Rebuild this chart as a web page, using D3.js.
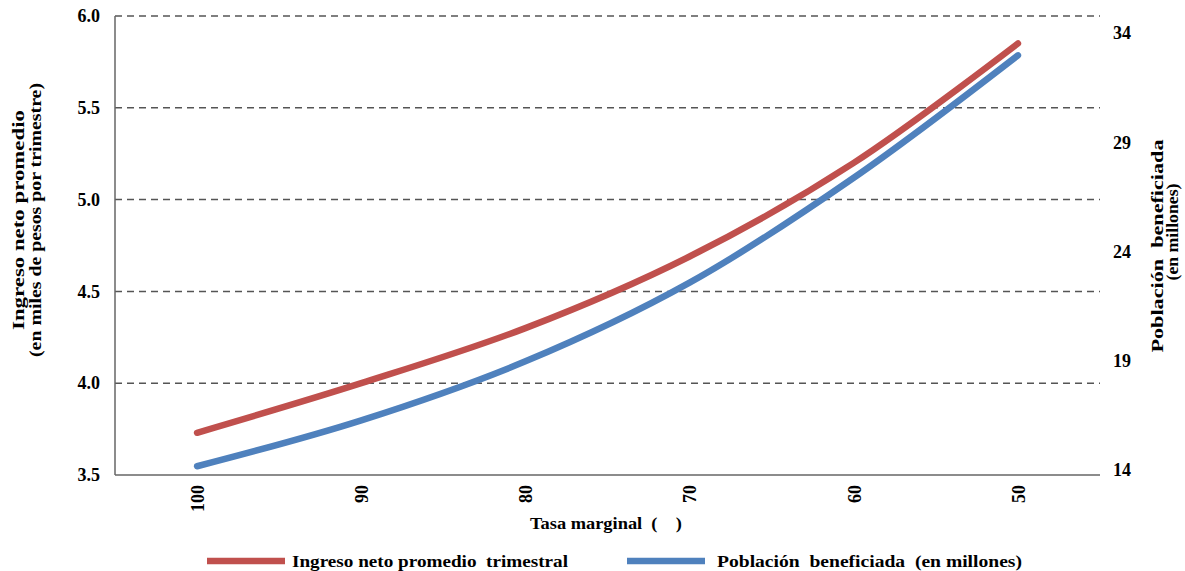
<!DOCTYPE html>
<html><head><meta charset="utf-8">
<script src="https://cdn.jsdelivr.net/npm/d3@7"></script>
<style>
body{margin:0;background:#fff;}
svg text{font-family:"Liberation Serif","Times New Roman","DejaVu Serif",serif !important;font-weight:bold;fill:#000;white-space:pre;}
</style></head>
<body><svg id="c" width="1185" height="571"></svg>
<script>
const categories = ["100","90","80","70","60","50"];
const ingreso = [3.73, 4.0, 4.30, 4.69, 5.20, 5.85];
const poblacion = [14.4, 16.5, 19.2, 22.8, 27.6, 33.2];
const leftTicks = [3.5, 4.0, 4.5, 5.0, 5.5, 6.0];
const rightTicks = [14, 19, 24, 29, 34];
const seriesNames = ["Ingreso neto promedio  trimestral", "Población  beneficiada  (en millones)"];
const colors = ["#C0504D", "#4F81BD"];

const FONT = '"Liberation Serif","Times New Roman","DejaVu Serif",serif';
const svg = d3.select("#c").attr("font-family", FONT);
const L = 115, R = 1100, T = 16, B = 475;
const x = d3.scalePoint().domain(categories).range([L, R]).padding(0.5);
const yL = d3.scaleLinear().domain([3.5, 6.0]).range([B, T]);
const yR = d3.scaleLinear().domain([14, 35]).range([B, T]);

// gridlines
svg.append("g").selectAll("line").data(leftTicks.filter(d => d > 3.5)).join("line")
  .attr("x1", L).attr("x2", R).attr("y1", d => yL(d)).attr("y2", d => yL(d))
  .attr("stroke", "#555").attr("stroke-width", 1.5).attr("stroke-dasharray", "7,5");

// axes lines
svg.append("line").attr("x1", L).attr("x2", L).attr("y1", T).attr("y2", B).attr("stroke", "#666").attr("stroke-width", 1.5);
svg.append("line").attr("x1", L).attr("x2", R).attr("y1", B).attr("y2", B).attr("stroke", "#666").attr("stroke-width", 1.5);

function styleText(sel, size) {
  sel.attr("font-family", FONT).style("font-family", FONT).style("font-size", size + "px").style("font-weight", "bold");
}
function fit(sel, len) { sel.attr("textLength", len).attr("lengthAdjust", "spacingAndGlyphs"); }

// left axis labels
const gl = svg.append("g").attr("transform", `translate(${L},0)`)
  .call(d3.axisLeft(yL).tickValues(leftTicks).tickFormat(d3.format(".1f")).tickSize(0).tickPadding(15));
gl.attr("font-family", FONT);
gl.select(".domain").remove();
styleText(gl.selectAll("text"), 18);

// right axis labels
const gr = svg.append("g").attr("transform", `translate(${R},0)`)
  .call(d3.axisRight(yR).tickValues(rightTicks).tickSize(0).tickPadding(13));
gr.attr("font-family", FONT);
gr.select(".domain").remove();
styleText(gr.selectAll("text"), 18);
gr.selectAll("text").attr("dy", "0.05em");

// x axis labels (rotated)
const gx = svg.append("g").attr("transform", `translate(0,${B})`)
  .call(d3.axisBottom(x).tickSize(0).tickPadding(0));
gx.attr("font-family", FONT);
gx.select(".domain").remove();
styleText(gx.selectAll("text"), 18);
gx.selectAll("text").attr("transform", "rotate(-90)").attr("text-anchor", "end").attr("x", -10).attr("y", 0).attr("dy", "0.35em");

// lines
const line1 = d3.line().x((d, i) => x(categories[i])).y(d => yL(d)).curve(d3.curveCatmullRom);
const line2 = d3.line().x((d, i) => x(categories[i])).y(d => yR(d)).curve(d3.curveCatmullRom);
svg.append("path").attr("d", line1(ingreso)).attr("fill", "none").attr("stroke", colors[0]).attr("stroke-width", 6.5).attr("stroke-linecap", "round").attr("stroke-linejoin", "round");
svg.append("path").attr("d", line2(poblacion)).attr("fill", "none").attr("stroke", colors[1]).attr("stroke-width", 6.5).attr("stroke-linecap", "round").attr("stroke-linejoin", "round");

// axis titles
const xt = svg.append("text").attr("x", 606).attr("y", 529).attr("text-anchor", "middle").text("Tasa marginal  (    )");
styleText(xt, 17); fit(xt, 152);

const lt1 = svg.append("text").attr("transform", "translate(24,220) rotate(-90)").attr("text-anchor", "middle").text("Ingreso neto promedio");
styleText(lt1, 17); fit(lt1, 220);
const lt2 = svg.append("text").attr("transform", "translate(41,220) rotate(-90)").attr("text-anchor", "middle").text("(en miles de pesos por trimestre)");
styleText(lt2, 17); fit(lt2, 274);

const rt1 = svg.append("text").attr("transform", "translate(1163,246) rotate(-90)").attr("text-anchor", "middle").text("Población  beneficiada");
styleText(rt1, 17); fit(rt1, 213);
const rt2 = svg.append("text").attr("transform", "translate(1178,232) rotate(-90)").attr("text-anchor", "middle").text("(en millones)");
styleText(rt2, 17); fit(rt2, 97);

// legend
const legX = [207, 627];
const legW = [276, 305];
const lg = svg.append("g").selectAll("g").data(seriesNames).join("g").attr("transform", (d, i) => `translate(${legX[i]},561)`);
lg.append("line").attr("x1", 0).attr("x2", 78).attr("y1", 0).attr("y2", 0).attr("stroke", (d, i) => colors[i]).attr("stroke-width", 6.5);
const lgt = lg.append("text").attr("x", (d, i) => i === 0 ? 85 : 90).attr("y", 6).text(d => d);
styleText(lgt, 17);
lgt.attr("textLength", (d, i) => legW[i]).attr("lengthAdjust", "spacingAndGlyphs");
</script></body></html>
